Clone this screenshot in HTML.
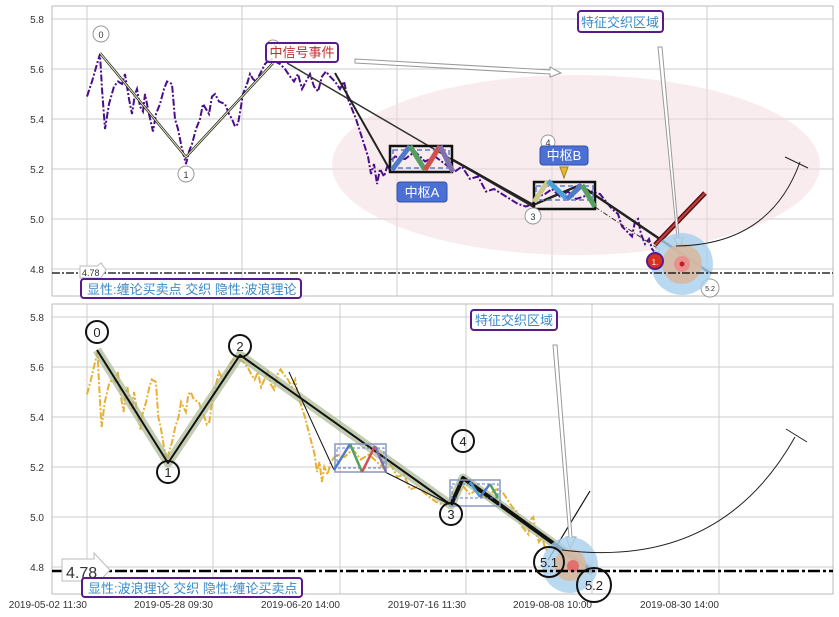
<!DOCTYPE html>
<html><head><meta charset="utf-8"><style>
body{margin:0;background:#fff;}
svg{display:block;font-family:"Liberation Sans","Noto Sans CJK SC",sans-serif;}
</style></head><body>
<svg id="s" width="839" height="617" viewBox="0 0 839 617" xmlns="http://www.w3.org/2000/svg">
<rect width="839" height="617" fill="#fff"/>
<!-- TOP PANEL -->
<g stroke="#cccccc" stroke-width="1">
<line x1="52" y1="19" x2="833" y2="19"/><line x1="52" y1="69" x2="833" y2="69"/><line x1="52" y1="119" x2="833" y2="119"/><line x1="52" y1="169" x2="833" y2="169"/><line x1="52" y1="219" x2="833" y2="219"/><line x1="52" y1="269" x2="833" y2="269"/>
<line x1="87" y1="6" x2="87" y2="296"/><line x1="242" y1="6" x2="242" y2="296"/><line x1="397" y1="6" x2="397" y2="296"/><line x1="552" y1="6" x2="552" y2="296"/><line x1="707" y1="6" x2="707" y2="296"/>
</g>
<rect x="52" y="6" width="781" height="290" fill="none" stroke="#bbb"/>
<g font-size="10" fill="#333" text-anchor="end">
<text x="44" y="23">5.8</text><text x="44" y="73">5.6</text><text x="44" y="123">5.4</text><text x="44" y="173">5.2</text><text x="44" y="223">5.0</text><text x="44" y="273">4.8</text>
</g>
<ellipse cx="576" cy="165" rx="244" ry="90" fill="#f3d9df" opacity="0.5"/>
<path id="p1" d="" fill="none" stroke="#4b0d8a" stroke-width="2" stroke-dasharray="7,2,2,2"/>
<g fill="none">
<polyline points="100,53 186,157 273,63" stroke="#222" stroke-width="2.5"/>
<polyline points="100,53 186,157 273,63" stroke="#e8f0c0" stroke-width="1"/>
<line x1="287" y1="63" x2="533" y2="207" stroke="#333" stroke-width="1.5"/>
<line x1="335" y1="73" x2="390" y2="170" stroke="#222" stroke-width="2"/>
<polyline points="453,160 533,205 580,185 710,273" stroke="#222" stroke-width="2.5"/>
<line x1="595" y1="207" x2="660" y2="250" stroke="#333" stroke-width="1" stroke-dasharray="5,2,1,2"/>
<line x1="655" y1="245" x2="705" y2="193" stroke="#5a1010" stroke-width="5"/>
<line x1="655" y1="245" x2="705" y2="193" stroke="#c04040" stroke-width="2"/>
</g>
<rect x="390" y="146" width="62" height="26" fill="none" stroke="#111" stroke-width="2.5"/>
<rect x="393" y="150" width="56" height="18" fill="none" stroke="#5b7bd0" stroke-width="1.5" stroke-dasharray="5,3"/>
<g fill="none" stroke-width="5">
<line x1="392" y1="170" x2="410" y2="146" stroke="#4f7ac8"/><line x1="410" y1="146" x2="425" y2="170" stroke="#55a060"/><line x1="425" y1="170" x2="440" y2="146" stroke="#d05050"/><line x1="440" y1="146" x2="453" y2="172" stroke="#8070b0"/>
</g>
<rect x="397" y="182" width="50" height="20" rx="3" fill="#4b6fd4" stroke="#3050a0"/>
<text x="422" y="197" font-size="13" fill="#fff" text-anchor="middle">中枢A</text>
<rect x="534" y="182" width="61" height="27" fill="none" stroke="#111" stroke-width="2.5"/>
<rect x="536" y="186" width="57" height="14" fill="none" stroke="#5b7bd0" stroke-width="1.5" stroke-dasharray="5,3"/>
<g fill="none" stroke-width="5">
<line x1="534" y1="202" x2="548" y2="181" stroke="#c8c890"/><line x1="548" y1="181" x2="567" y2="199" stroke="#4aa0d8"/><line x1="567" y1="199" x2="582" y2="185" stroke="#4f7ac8"/><line x1="582" y1="185" x2="595" y2="207" stroke="#55a060"/>
</g>
<circle cx="548" cy="142" r="7" fill="#fff" stroke="#999"/><text x="548" y="146" font-size="9" text-anchor="middle" fill="#333">4</text>
<rect x="540" y="146" width="48" height="19" rx="3" fill="#4b6fd4" stroke="#3050a0"/>
<text x="564" y="160" font-size="13" fill="#fff" text-anchor="middle">中枢B</text>
<polygon points="560,167 568,167 564,178" fill="#e8b830" stroke="#a08020"/>
<g fill="#fff" stroke="#999" font-size="9">
<circle cx="101" cy="34" r="8"/><circle cx="186" cy="174" r="8"/><circle cx="273" cy="47" r="7"/><circle cx="533" cy="216" r="8"/><circle cx="710" cy="288" r="9"/>
</g>
<g font-size="9" fill="#333" text-anchor="middle">
<text x="101" y="38">0</text><text x="186" y="178">1</text><text x="273" y="50">2</text><text x="533" y="220">3</text><text x="710" y="291" font-size="7">5.2</text>
</g>
<rect x="266" y="43" width="72" height="19" rx="3" fill="#fff" fill-opacity="0.8" stroke="#5a1a8a" stroke-width="2"/>
<text x="302" y="57" font-size="13" fill="#c03030" text-anchor="middle">中信号事件</text>
<polygon points="355,59 550,70 550,67 561,73 550,77 550,74 355,63" fill="#fff" stroke="#999"/>
<rect x="578" y="11" width="85" height="21" rx="3" fill="#fff" stroke="#5a1a8a" stroke-width="2"/>
<text x="620" y="27" font-size="13" fill="#3a8ac8" text-anchor="middle">特征交织区域</text>
<polygon points="658,47 662,47 679,238 683,238 679,248 674,238 677,238" fill="#fff" stroke="#999"/>
<circle cx="682" cy="264" r="31" fill="#a8d0ee" opacity="0.8"/>
<circle cx="682" cy="264" r="20" fill="#d8b8a0" opacity="0.9"/>
<circle cx="682" cy="264" r="8" fill="#e89090"/>
<circle cx="682" cy="264" r="2.5" fill="#c02020"/>
<circle cx="655" cy="261" r="8" fill="#d83020" stroke="#5a1a8a" stroke-width="2"/>
<text x="655" y="265" font-size="8" fill="#fff" text-anchor="middle">1.</text>
<path d="M676,246 Q770,245 800,162" fill="none" stroke="#222" stroke-width="1"/>
<line x1="785" y1="157" x2="808" y2="168" stroke="#222"/>
<line x1="52" y1="273" x2="833" y2="273" stroke="#000" stroke-width="1.2" stroke-dasharray="8,2,2,2"/>
<polygon points="80,266 97,266 101,263 106,270 101,278 80,278" fill="#fff" stroke="#bbb"/>
<text x="82" y="276" font-size="9" fill="#333">4.78</text>
<rect x="81" y="279" width="220" height="19" rx="3" fill="#fff" stroke="#5a1a8a" stroke-width="2"/>
<text x="87" y="294" font-size="13" fill="#3a8ac8">显性:缠论买卖点 交织 隐性:波浪理论</text>

<!-- BOTTOM PANEL -->
<g stroke="#cccccc" stroke-width="1">
<line x1="52" y1="317" x2="833" y2="317"/><line x1="52" y1="367" x2="833" y2="367"/><line x1="52" y1="417" x2="833" y2="417"/><line x1="52" y1="467" x2="833" y2="467"/><line x1="52" y1="517" x2="833" y2="517"/><line x1="52" y1="567" x2="833" y2="567"/>
<line x1="87" y1="304" x2="87" y2="594"/><line x1="213" y1="304" x2="213" y2="594"/><line x1="340" y1="304" x2="340" y2="594"/><line x1="466" y1="304" x2="466" y2="594"/><line x1="592" y1="304" x2="592" y2="594"/><line x1="719" y1="304" x2="719" y2="594"/>
</g>
<rect x="52" y="304" width="781" height="290" fill="none" stroke="#bbb"/>
<g font-size="10" fill="#333" text-anchor="end">
<text x="44" y="321">5.8</text><text x="44" y="371">5.6</text><text x="44" y="421">5.4</text><text x="44" y="471">5.2</text><text x="44" y="521">5.0</text><text x="44" y="571">4.8</text>
</g>
<g font-size="10" fill="#333" text-anchor="end">
<text x="87" y="608">2019-05-02 11:30</text><text x="213" y="608">2019-05-28 09:30</text><text x="340" y="608">2019-06-20 14:00</text><text x="466" y="608">2019-07-16 11:30</text><text x="592" y="608">2019-08-08 10:00</text><text x="719" y="608">2019-08-30 14:00</text>
</g>
<path id="p2" d="" fill="none" stroke="#e8b030" stroke-width="2" stroke-dasharray="7,2,2,2"/>
<g fill="none" stroke-linejoin="round">
<polyline points="97,350 168,463 240,355 451,505 463,478 593,572" stroke="#aab890" stroke-opacity="0.7" stroke-width="9"/>
<polyline points="97,350 168,463 240,355 451,505" stroke="#111" stroke-width="2"/>
<polyline points="451,505 463,478 593,572" stroke="#111" stroke-width="4"/>
<line x1="289" y1="372" x2="334" y2="470" stroke="#111" stroke-width="1"/>
<line x1="385" y1="472" x2="451" y2="505" stroke="#111" stroke-width="1"/>
<line x1="500" y1="506" x2="560" y2="548" stroke="#111" stroke-width="1.5" stroke-dasharray="8,2,2,2"/>
<line x1="548" y1="560" x2="590" y2="491" stroke="#111" stroke-width="1.2"/>
</g>
<rect x="335" y="444" width="51" height="28" fill="none" stroke="#8898c0" stroke-width="1.5"/>
<rect x="337" y="448" width="47" height="20" fill="none" stroke="#5b7bd0" stroke-width="1" stroke-dasharray="3,2"/>
<g fill="none" stroke-width="2.5">
<line x1="334" y1="470" x2="350" y2="444" stroke="#4f7ac8"/><line x1="350" y1="444" x2="362" y2="472" stroke="#55a060"/><line x1="362" y1="472" x2="375" y2="446" stroke="#d05050"/><line x1="375" y1="446" x2="386" y2="472" stroke="#8070b0"/>
</g>
<rect x="450" y="480" width="50" height="26" fill="none" stroke="#8898c0" stroke-width="1.5"/>
<rect x="452" y="484" width="46" height="14" fill="none" stroke="#5b7bd0" stroke-width="1" stroke-dasharray="3,2"/>
<g fill="none" stroke-width="2.5">
<line x1="470" y1="482" x2="480" y2="497" stroke="#4aa0d8"/><line x1="480" y1="497" x2="490" y2="484" stroke="#4f7ac8"/><line x1="490" y1="484" x2="498" y2="498" stroke="#55a060"/>
</g>
<rect x="471" y="310" width="86" height="20" rx="3" fill="#fff" stroke="#5a1a8a" stroke-width="2"/>
<text x="514" y="325" font-size="13" fill="#3a8ac8" text-anchor="middle">特征交织区域</text>
<polygon points="553,345 557,345 572,537 576,537 570,548 566,537 569,537" fill="#fff" stroke="#999"/>
<circle cx="570" cy="565" r="28" fill="#a8d0ee" opacity="0.8"/>
<circle cx="570" cy="565" r="16" fill="#d8b8a0" opacity="0.9"/>
<circle cx="573" cy="566" r="6" fill="#e07070"/>
<path d="M562,550 Q720,570 795,437" fill="none" stroke="#222" stroke-width="1"/>
<line x1="786" y1="429" x2="807" y2="442" stroke="#222"/>
<line x1="52" y1="571" x2="833" y2="571" stroke="#000" stroke-width="2.5" stroke-dasharray="12,3,3,3"/>
<g fill="none" stroke="#111" stroke-width="2">
<circle cx="97" cy="332" r="11"/><circle cx="168" cy="472" r="11"/><circle cx="240" cy="346" r="11"/><circle cx="451" cy="514" r="11"/><circle cx="463" cy="441" r="11"/><circle cx="549" cy="562" r="15"/><circle cx="594" cy="585" r="17"/>
</g>
<g font-size="13" fill="#222" text-anchor="middle">
<text x="97" y="337">0</text><text x="168" y="477">1</text><text x="240" y="351">2</text><text x="451" y="519">3</text><text x="463" y="446">4</text><text x="549" y="567">5.1</text><text x="594" y="590">5.2</text>
</g>
<polygon points="62,559 94,559 94,553 110,570 94,587 94,581 62,581" fill="#fff" stroke="#bbb"/>
<text x="66" y="578" font-size="16" fill="#333">4.78</text>
<rect x="82" y="578" width="220" height="19" rx="3" fill="#fff" stroke="#5a1a8a" stroke-width="2"/>
<text x="88" y="593" font-size="13" fill="#3a8ac8">显性:波浪理论 交织 隐性:缠论买卖点</text>
</svg>
<script>
var pts=[[87,5.49],[92,5.55],[97,5.62],[100,5.66],[102,5.52],[105,5.36],[109,5.46],[114,5.53],[118,5.55],[122,5.54],[125,5.58],[129,5.48],[132,5.42],[135,5.5],[137,5.52],[140,5.45],[143,5.43],[145,5.5],[149,5.42],[153,5.35],[156,5.42],[160,5.46],[164,5.52],[167,5.55],[172,5.54],[175,5.4],[178,5.36],[182,5.28],[186,5.22],[189,5.27],[192,5.3],[196,5.36],[200,5.4],[203,5.46],[206,5.44],[209,5.42],[212,5.49],[215,5.5],[219,5.47],[225,5.46],[229,5.42],[232,5.4],[235,5.37],[238,5.38],[241,5.45],[243,5.5],[247,5.54],[250,5.58],[253,5.56],[256,5.55],[260,5.58],[265,5.62],[270,5.64],[275,5.63],[280,5.62],[285,5.6],[290,5.57],[294,5.55],[298,5.58],[302,5.52],[306,5.55],[310,5.58],[314,5.53],[318,5.51],[322,5.57],[326,5.59],[330,5.57],[335,5.55],[340,5.52],[344,5.55],[348,5.48],[352,5.44],[356,5.4],[360,5.35],[364,5.3],[368,5.25],[371,5.18],[374,5.22],[377,5.14],[380,5.2],[384,5.17],[388,5.22],[395,5.25],[405,5.24],[415,5.27],[425,5.23],[435,5.25],[445,5.22],[455,5.19],[462,5.21],[470,5.16],[478,5.17],[486,5.11],[494,5.12],[502,5.1],[510,5.08],[518,5.06],[526,5.05],[532,5.06],[538,5.09],[545,5.1],[552,5.12],[560,5.09],[568,5.11],[576,5.08],[584,5.09],[592,5.11],[600,5.1],[606,5.07],[612,5.04],[618,5.02],[622,4.97],[627,4.95],[632,4.93],[635,4.99],[638,5.0],[641,4.94],[645,4.9],[649,4.92],[652,4.88],[656,4.86]];
function mk(fx,y0){var d="";for(var i=0;i<pts.length;i++){var x=fx(pts[i][0]),y=y0+(5.8-pts[i][1])*250;d+=(i?"L":"M")+x.toFixed(1)+","+y.toFixed(1);}return d;}
document.getElementById("p1").setAttribute("d",mk(function(x){return x},19));
document.getElementById("p2").setAttribute("d",mk(function(x){return 87+(x-87)*0.81},317));
</script>
</body></html>
